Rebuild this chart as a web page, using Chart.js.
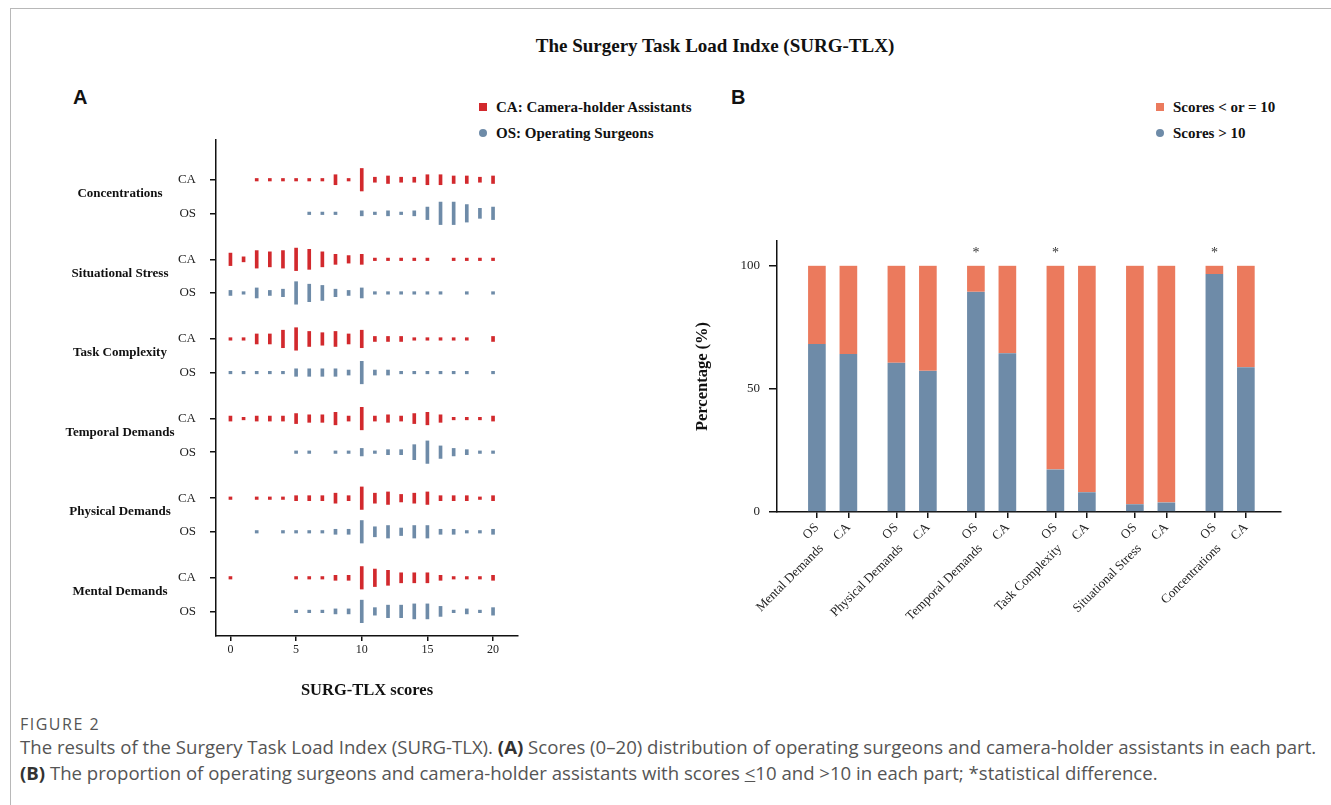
<!DOCTYPE html>
<html>
<head>
<meta charset="utf-8">
<script src="https://cdn.jsdelivr.net/npm/chart.js@4.4.1/dist/chart.umd.min.js"></script>
<style>
  html, body { margin:0; padding:0; background:#fff; }
  body { width:1331px; height:805px; position:relative; overflow:hidden; font-family:"Liberation Serif", serif; color:#111; }
  .frame-top { position:absolute; left:10px; top:8px; width:1321px; height:1px; background:#b8b8b8; }
  .frame-left { position:absolute; left:10px; top:8px; width:1px; height:797px; background:#b8b8b8; }
  #title { position:absolute; left:100px; top:35px; width:1230px; text-align:center; font:bold 19px "Liberation Serif", serif; color:#111; }
  .plabel { position:absolute; font:bold 20px "Liberation Sans", Arial, sans-serif; color:#111; }
  .leg { position:absolute; display:flex; align-items:center; height:18px; font:bold 15px "Liberation Serif", serif; color:#111; white-space:nowrap; }
  .leg .sq { width:8px; height:8px; margin-right:9px; }
  .leg .ci { width:8px; height:8px; border-radius:50%; margin-right:9px; }
  canvas { position:absolute; }
  #capfig { position:absolute; left:20px; top:713px; font:16px "Open Sans", sans-serif; color:#555; letter-spacing:1.5px; }
  .cap { position:absolute; left:20px; font:18.6px "Open Sans", sans-serif; color:#555; white-space:nowrap; }
  .cap b { color:#333; }
</style>
</head>
<body>
<div class="frame-top"></div>
<div class="frame-left"></div>
<div id="title">The Surgery Task Load Indxe (SURG-TLX)</div>
<div class="plabel" style="left:73px;top:86px;">A</div>
<div class="plabel" style="left:731px;top:86px;">B</div>

<div class="leg" style="left:479px;top:98px;"><span class="sq" style="background:#d2292d"></span>CA: Camera-holder Assistants</div>
<div class="leg" style="left:479px;top:124px;"><span class="ci" style="background:#6e8ba8"></span>OS: Operating Surgeons</div>
<div class="leg" style="left:1156px;top:98px;"><span class="sq" style="background:#eb7a5d"></span>Scores &lt; or = 10</div>
<div class="leg" style="left:1156px;top:124px;"><span class="ci" style="background:#6e8ba8"></span>Scores &gt; 10</div>

<canvas id="chartA" width="540" height="580" style="left:0px;top:130px;"></canvas>
<canvas id="chartB" width="630" height="420" style="left:680px;top:230px;"></canvas>

<div id="capfig">FIGURE 2</div>
<div class="cap" style="top:734px;">The results of the Surgery Task Load Index (SURG-TLX). <b>(A)</b> Scores (0–20) distribution of operating surgeons and camera-holder assistants in each part.</div>
<div class="cap" style="top:760px;"><b>(B)</b> The proportion of operating surgeons and camera-holder assistants with scores <u>&lt;</u>10 and &gt;10 in each part; *statistical difference.</div>

<script>
// ---------------- DATA ----------------
const groups = ['Mental Demands','Physical Demands','Temporal Demands','Task Complexity','Situational Stress','Concentrations'];
const scores = [0,1,2,3,4,5,6,7,8,9,10,11,12,13,14,15,16,17,18,19,20];
const xTickValues = [0,5,10,15,20];

// Panel A: number of respondents at each score (index = score 0..20)
const caMental        = [1,0,0,0,0,1,1,1,2,2,9,7,6,4,4,4,2,1,1,1,2];
const osMental        = [0,0,0,0,0,1,1,1,2,2,9,3,5,5,6,6,4,1,2,1,3];
const caPhysical      = [1,0,1,1,1,2,2,2,4,2,9,4,5,3,4,5,2,2,2,1,2];
const osPhysical      = [0,0,1,0,1,1,1,1,2,2,9,4,5,3,5,5,2,2,1,1,2];
const caTemporal      = [2,1,2,2,2,4,3,3,5,2,9,2,3,2,4,5,3,1,1,1,2];
const osTemporal      = [0,0,0,0,0,1,1,0,1,1,3,1,2,2,6,9,5,3,2,1,1];
const caTask          = [1,1,4,4,7,9,6,5,6,4,7,2,2,2,1,1,1,1,1,0,2];
const osTask          = [1,1,1,1,1,3,3,3,3,2,9,2,2,1,1,1,1,1,1,0,1];
const caSituational   = [5,2,7,6,7,9,8,6,4,3,4,1,1,1,1,1,0,1,1,1,1];
const osSituational   = [2,1,4,2,3,9,7,6,3,2,4,1,1,1,1,1,1,0,1,0,1];
const caConcentration = [0,0,1,1,1,1,1,1,4,1,9,2,3,2,2,4,4,3,3,2,3];
const osConcentration = [0,0,0,0,0,0,1,1,1,0,2,1,2,1,2,5,9,9,7,4,5];

// Panel B: percentage of respondents per part
const gt10OS = [68.2, 60.6, 89.4, 17.3, 3.1, 96.6];
const gt10CA = [64.1, 57.3, 64.4, 8.0, 3.9, 58.8];
const le10OS = [31.8, 39.4, 10.6, 82.7, 96.9, 3.4];
const le10CA = [35.9, 42.7, 35.6, 92.0, 96.1, 41.2];
const significant = [0, 0, 1, 1, 0, 1];
const yTickValuesB = [0, 50, 100];

// ---------------- STYLE / LAYOUT CONSTANTS ----------------
const RED = '#d2292d', BLUE = '#6e8ba8', ORANGE = '#eb7a5d';
const SERIF = '"Liberation Serif", "Times New Roman", serif';
const ROW_OFF = 0.211;      // offset of CA/OS rows from group centre (panel A)
const MARK_UNIT = 0.0314;   // mark length per respondent, in y units (panel A)
const BAR_OFF = 0.198;      // offset of OS/CA bars from group centre (panel B)

const caRows = [caMental, caPhysical, caTemporal, caTask, caSituational, caConcentration];
const osRows = [osMental, osPhysical, osTemporal, osTask, osSituational, osConcentration];

function marks(rows, sign) {
  const out = [];
  rows.forEach((row, g) => {
    const pos = g + sign * ROW_OFF;
    scores.forEach((s, i) => {
      const c = row[i];
      if (c > 0) out.push({x: s, y: [pos - c * MARK_UNIT / 2, pos + c * MARK_UNIT / 2]});
    });
  });
  return out;
}

const rowTicks = [], rowLabels = [];
groups.forEach((g, i) => {
  rowTicks.push(i - ROW_OFF); rowLabels.push('OS');
  rowTicks.push(i + ROW_OFF); rowLabels.push('CA');
});
const groupTicks = groups.map((g, i) => i);

const mctx = document.createElement('canvas').getContext('2d');
mctx.font = 'bold 13px ' + SERIF;
const widestGroup = Math.max(...groups.map(g => mctx.measureText(g).width));
const GROUP_CENTER_X = 120, YG_RIGHT = 178;
const groupPad = YG_RIGHT - GROUP_CENTER_X - widestGroup / 2;

const fixV = w => s => { s.width = w; s.paddingTop = 0; s.paddingBottom = 0; };
const fixH = h => s => { s.height = h; s.paddingLeft = 0; s.paddingRight = 0; };
const axisLine = {display: true, color: '#111', width: 1.5};

new Chart(document.getElementById('chartA'), {
  type: 'bar',
  data: {
    datasets: [
      {label: 'CA: Camera-holder Assistants', data: marks(caRows, 1), backgroundColor: RED, borderWidth: 0, barThickness: 3, grouped: false},
      {label: 'OS: Operating Surgeons', data: marks(osRows, -1), backgroundColor: BLUE, borderWidth: 0, barThickness: 3, grouped: false}
    ]
  },
  options: {
    responsive: false, animation: false,
    layout: {padding: {left: 0, top: 10, right: 22, bottom: 9}},
    plugins: {legend: {display: false}, tooltip: {enabled: false}},
    scales: {
      x: {
        type: 'linear', min: -1.1, max: 21.9, offset: false,
        afterBuildTicks: s => { s.ticks = xTickValues.map(v => ({value: v})); },
        afterFit: fixH(65),
        grid: {display: true, offset: false, drawOnChartArea: false, drawTicks: true, tickLength: 5, color: '#111', lineWidth: 1.5},
        border: axisLine,
        ticks: {font: {family: SERIF, size: 12}, color: '#222', padding: 2, maxRotation: 0, autoSkip: false},
        title: {display: true, text: 'SURG-TLX scores', font: {family: SERIF, size: 16.5, weight: 'bold'}, color: '#111', padding: 0}
      },
      y: {
        type: 'linear', position: 'left', min: -0.52, max: 5.71, weight: 0,
        afterBuildTicks: s => { s.ticks = rowTicks.map(v => ({value: v})); },
        afterFit: fixV(216 - YG_RIGHT),
        grid: {display: true, drawOnChartArea: false, drawTicks: true, tickLength: 6, color: '#111', lineWidth: 1.5},
        border: axisLine,
        ticks: {font: {family: SERIF, size: 13}, color: '#222', padding: 14, autoSkip: false,
                callback: (v, i) => rowLabels[i]}
      },
      yg: {
        type: 'linear', position: 'left', min: -0.52, max: 5.71, weight: 1,
        afterBuildTicks: s => { s.ticks = groupTicks.map(v => ({value: v})); },
        afterFit: fixV(YG_RIGHT),
        grid: {display: false, drawTicks: false},
        border: {display: false},
        ticks: {font: {family: SERIF, size: 13, weight: 'bold'}, color: '#111', padding: groupPad, crossAlign: 'center', autoSkip: false,
                labelOffset: -3, callback: (v, i) => groups[i]}
      }
    }
  }
});

// ---------------- Panel B ----------------
const barTicks = [], barLabels = [], groupTicksB = [];
groups.forEach((g, i) => {
  barTicks.push(i - BAR_OFF); barLabels.push('OS');
  barTicks.push(i + BAR_OFF); barLabels.push('CA');
  groupTicksB.push(i - 0.14);
});
function pairs(osArr, caArr) {
  const out = [];
  groups.forEach((g, i) => {
    out.push({x: i - BAR_OFF, y: osArr[i]});
    out.push({x: i + BAR_OFF, y: caArr[i]});
  });
  return out;
}

const sigPlugin = {
  id: 'sig',
  afterDatasetsDraw(chart) {
    const {ctx, scales: {x, y}} = chart;
    ctx.save();
    ctx.font = '14px ' + SERIF;
    ctx.fillStyle = '#333';
    ctx.textAlign = 'center';
    ctx.textBaseline = 'middle';
    significant.forEach((s, i) => {
      if (s) ctx.fillText('*', x.getPixelForValue(i - BAR_OFF), y.getPixelForValue(105));
    });
    ctx.restore();
  }
};

const barBorder = {left: 1, right: 1, top: 0, bottom: 0};
new Chart(document.getElementById('chartB'), {
  type: 'bar',
  data: {
    datasets: [
      {label: 'Scores > 10', data: pairs(gt10OS, gt10CA), backgroundColor: BLUE, borderColor: 'rgba(255,255,255,0.55)', borderWidth: barBorder, borderSkipped: false, barThickness: 19},
      {label: 'Scores < or = 10', data: pairs(le10OS, le10CA), backgroundColor: ORANGE, borderColor: 'rgba(255,255,255,0.55)', borderWidth: barBorder, borderSkipped: false, barThickness: 19}
    ]
  },
  options: {
    responsive: false, animation: false,
    layout: {padding: {left: 13, top: 11, right: 29, bottom: 0}},
    plugins: {legend: {display: false}, tooltip: {enabled: false}},
    scales: {
      x: {
        type: 'linear', min: -0.7, max: 5.64, stacked: true, weight: 0, offset: false,
        afterBuildTicks: s => { s.ticks = barTicks.map(v => ({value: v})); },
        afterFit: fixH(29),
        grid: {display: true, offset: false, drawOnChartArea: false, drawTicks: true, tickLength: 6, color: '#111', lineWidth: 1.5},
        border: axisLine,
        ticks: {font: {family: SERIF, size: 13}, color: '#222', padding: 2, minRotation: 45, maxRotation: 45, autoSkip: false,
                callback: (v, i) => barLabels[i]}
      },
      xg: {
        type: 'linear', position: 'bottom', min: -0.7, max: 5.64, weight: 1, offset: false,
        afterBuildTicks: s => { s.ticks = groupTicksB.map(v => ({value: v})); },
        afterFit: fixH(109),
        grid: {display: false, offset: false, drawTicks: false},
        border: {display: false},
        ticks: {font: {family: SERIF, size: 13}, color: '#222', padding: 0, minRotation: 45, maxRotation: 45, autoSkip: false,
                callback: (v, i) => groups[i]}
      },
      y: {
        type: 'linear', min: 0, max: 110, stacked: true,
        afterBuildTicks: s => { s.ticks = yTickValuesB.map(v => ({value: v})); },
        afterFit: fixV(84),
        grid: {display: true, drawOnChartArea: false, drawTicks: true, tickLength: 8, color: '#111', lineWidth: 1.5},
        border: axisLine,
        ticks: {font: {family: SERIF, size: 13}, color: '#222', padding: 9},
        title: {display: true, text: 'Percentage (%)', font: {family: SERIF, size: 16.5, weight: 'bold'}, color: '#111', padding: 0}
      }
    }
  },
  plugins: [sigPlugin]
});
</script>
</body>
</html>
